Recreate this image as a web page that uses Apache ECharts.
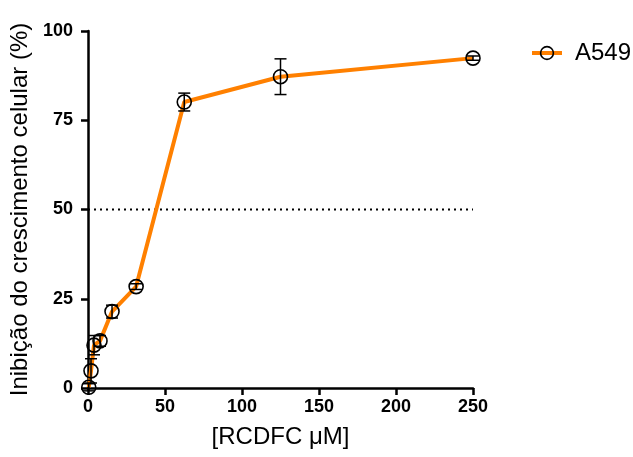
<!DOCTYPE html>
<html>
<head>
<meta charset="utf-8">
<script src="https://cdn.jsdelivr.net/npm/echarts@6/dist/echarts.min.js"></script>
<style>
  html, body { margin: 0; padding: 0; background: #fff; }
  #chart { width: 633px; height: 457px; }
</style>
</head>
<body>
<div id="chart"></div>
<script>
// concentrações (µM) e inibição (%) com desvio
const conc = [0.49, 1.95, 3.9, 7.8, 15.6, 31.25, 62.5, 125, 250]
const inhib = [0.2, 4.8, 12.0, 13.2, 21.4, 28.4, 80.1, 87.2, 92.4]
const errs = [1.0, 3.4, 2.7, 1.5, 1.8, 0.8, 2.5, 5.0, 0.6]
const refX = [0, 250]
const refY = [50, 50]
const xTicks = { min: 0, max: 250, interval: 50 }
const yTicks = { min: 0, max: 100, interval: 25 }

const chart = echarts.init(document.getElementById('chart'))
const font = 'Liberation Sans, Arial, sans-serif'

// barras de erro
function renderErr(params, api) {
  const x = api.value(0)
  const lo = api.coord([x, api.value(1)])
  const hi = api.coord([x, api.value(2)])
  const cap = 6
  const style = { stroke: '#000', lineWidth: 1.5, fill: null }
  return {
    type: 'group',
    children: [
      { type: 'line', shape: { x1: lo[0], y1: lo[1], x2: hi[0], y2: hi[1] }, style },
      { type: 'line', shape: { x1: lo[0] - cap, y1: lo[1], x2: lo[0] + cap, y2: lo[1] }, style },
      { type: 'line', shape: { x1: hi[0] - cap, y1: hi[1], x2: hi[0] + cap, y2: hi[1] }, style }
    ]
  }
}

const option = {
  animation: false,
  textStyle: { fontFamily: font },
  grid: { left: 88, right: 160, top: 31, bottom: 69 },
  legend: {
    data: ['A549'],
    left: 525,
    top: 36,
    itemWidth: 30,
    itemHeight: 16,
    itemGap: 10,
    lineStyle: { width: 4, color: '#FF8000' },
    itemStyle: { borderWidth: 1.6, borderColor: '#000', color: 'rgba(255,255,255,0)' },
    textStyle: { fontSize: 24, color: '#000', fontFamily: font, padding: [0, 0, 0, 8] }
  },
  xAxis: {
    type: 'value',
    min: xTicks.min,
    max: xTicks.max,
    interval: xTicks.interval,
    name: '[RCDFC \u03bcM]',
    nameLocation: 'middle',
    nameGap: 37,
    nameTextStyle: { fontSize: 24, color: '#000', fontFamily: font },
    axisLine: { onZero: false, lineStyle: { color: '#000', width: 2.5 } },
    axisTick: { length: 7, lineStyle: { color: '#000', width: 2.5 } },
    axisLabel: { color: '#000', fontSize: 18, fontWeight: 'bold', margin: 10, fontFamily: font },
    splitLine: { show: false }
  },
  yAxis: {
    type: 'value',
    min: yTicks.min,
    max: yTicks.max,
    interval: yTicks.interval,
    name: 'Inibição do crescimento celular (%)',
    nameLocation: 'middle',
    nameGap: 52,
    nameTextStyle: { fontSize: 24, color: '#000', fontFamily: font },
    axisLine: { show: true, lineStyle: { color: '#000', width: 2.5 } },
    axisTick: { show: true, length: 7, lineStyle: { color: '#000', width: 2.5 } },
    axisLabel: { color: '#000', fontSize: 18, fontWeight: 'bold', margin: 15, fontFamily: font },
    splitLine: { show: false }
  },
  series: [
    {
      name: 'ref50',
      type: 'line',
      data: refX.map((x, i) => [x, refY[i]]),
      symbol: 'none',
      silent: true,
      lineStyle: { color: '#000', width: 2, type: [2, 4] },
      z: 1
    },
    {
      name: 'A549',
      type: 'line',
      data: conc.map((x, i) => [x, inhib[i]]),
      symbol: 'circle',
      symbolSize: 14,
      clip: false,
      lineStyle: { color: '#FF8000', width: 4 },
      itemStyle: { color: 'rgba(255,255,255,0)', borderColor: '#000', borderWidth: 1.6 },
      z: 3
    },
    {
      name: 'err',
      type: 'custom',
      renderItem: renderErr,
      data: conc.map((x, i) => [x, inhib[i] - errs[i], inhib[i] + errs[i]]),
      encode: { x: 0, y: [1, 2] },
      clip: false,
      z: 4
    }
  ]
}

chart.setOption(option)
</script>
</body>
</html>
